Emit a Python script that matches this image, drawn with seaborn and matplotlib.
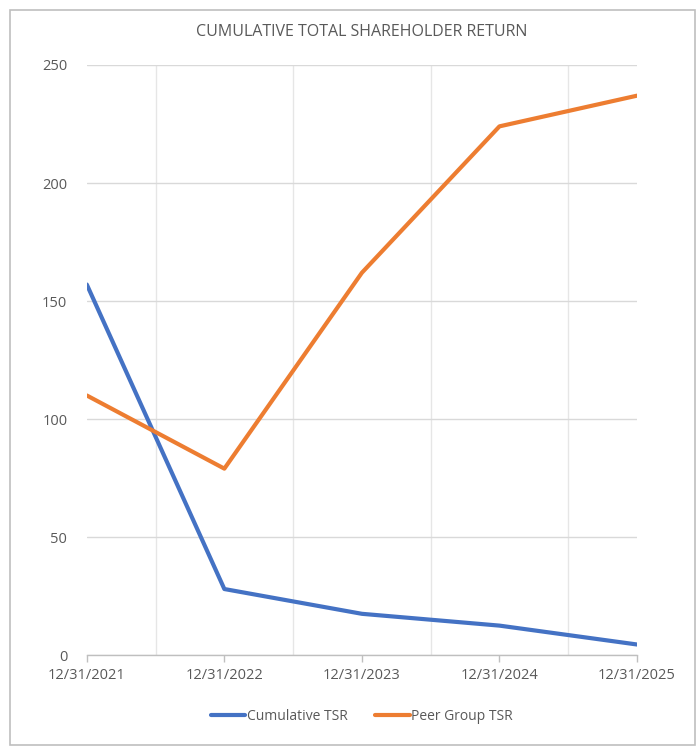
import matplotlib
matplotlib.use("Agg")
import matplotlib.pyplot as plt
import seaborn as sns
import pandas as pd
from matplotlib.patches import Rectangle
from matplotlib.ticker import FixedLocator

dates = ["12/31/2021", "12/31/2022", "12/31/2023", "12/31/2024", "12/31/2025"]
cumulative_tsr = [157, 28, 17.5, 12.5, 4.5]
peer_group_tsr = [110, 79, 162, 224, 237]
series_names = ["Cumulative TSR", "Peer Group TSR"]
colors = ["#4472C4", "#ED7D31"]
title = "CUMULATIVE TOTAL SHAREHOLDER RETURN"

sns.set_theme(style="white")
plt.rcParams["font.family"] = ["Open Sans", "DejaVu Sans"]

df = pd.DataFrame({
    "x": list(range(len(dates))) * 2,
    "value": cumulative_tsr + peer_group_tsr,
    "series": [series_names[0]] * len(dates) + [series_names[1]] * len(dates),
})

fig = plt.figure(figsize=(7.0, 7.47), dpi=100)
ax = fig.add_axes([0.124, 0.123, 0.786, 0.790])

sns.lineplot(data=df, x="x", y="value", hue="series", palette=colors,
             linewidth=3.0, ax=ax, legend=True)

ax.set_xlim(0, len(dates) - 1)
ax.set_ylim(0, 250)
ax.set_yticks([0, 50, 100, 150, 200, 250])
ax.set_xticks(range(len(dates)))
ax.set_xticklabels(dates)
ax.xaxis.set_minor_locator(FixedLocator([0.5, 1.5, 2.5, 3.5]))
ax.set_xlabel("")
ax.set_ylabel("")

ax.grid(axis="y", which="major", color="#D9D9D9", linewidth=1.0)
ax.grid(axis="x", which="minor", color="#E6E6E6", linewidth=1.0)
ax.grid(axis="x", which="major", visible=False)
ax.set_axisbelow(True)

for s in ["top", "right", "left"]:
    ax.spines[s].set_visible(False)
ax.spines["bottom"].set_color("#BFBFBF")
ax.spines["bottom"].set_linewidth(1.0)

ax.tick_params(axis="x", which="major", direction="out", length=5, width=1,
               color="#BFBFBF", labelcolor="#595959", labelsize=10.5, pad=4,
               bottom=True)
ax.tick_params(axis="x", which="minor", length=0)
ax.tick_params(axis="y", length=0, labelcolor="#595959", labelsize=10.5, pad=14)

ax.set_title(title, color="#595959", fontsize=11.5, pad=21)

leg = ax.legend(loc="upper center", bbox_to_anchor=(0.5, -0.07), ncol=2,
                frameon=False, fontsize=10, handlelength=2.5, handletextpad=0.1,
                columnspacing=2.0)
for t in leg.get_texts():
    t.set_color("#595959")

fig.patches.append(Rectangle((10 / 700, 1 - 745 / 747), 685 / 700, 735 / 747,
                             transform=fig.transFigure, fill=False,
                             edgecolor="#BFBFBF", linewidth=1.2))

fig.savefig("out.png", dpi=100)
